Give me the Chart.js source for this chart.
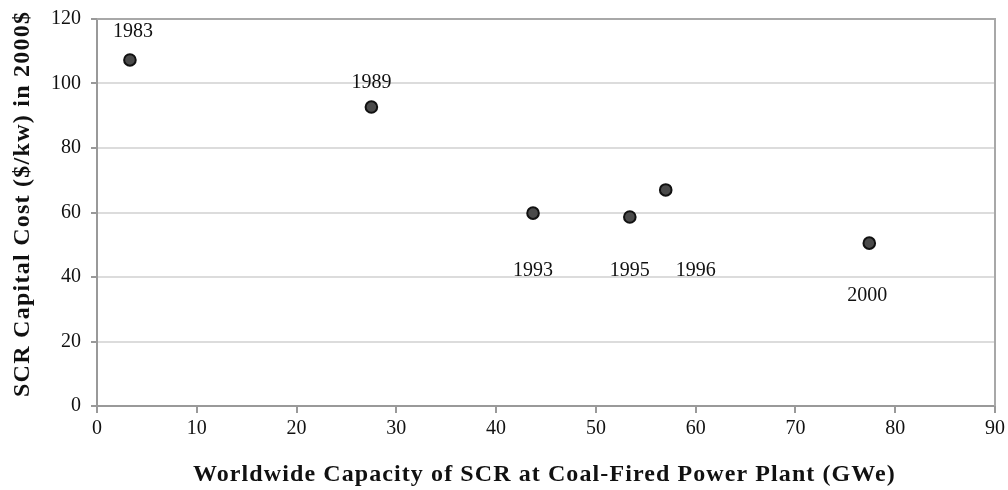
<!DOCTYPE html>
<html>
<head>
<meta charset="utf-8">
<script src="https://cdn.jsdelivr.net/npm/chart.js@4/dist/chart.umd.min.js"></script>
<style>
  html, body { margin: 0; padding: 0; background: #fff; }
  #wrap { width: 1008px; height: 490px; }
</style>
</head>
<body>
<div id="wrap"><canvas id="scr"></canvas></div>
<script>
// values
const years = ['1983', '1989', '1993', '1995', '1996', '2000'];
const capacityGWe = [3.3, 27.5, 43.7, 53.4, 57.0, 77.4];
const costPerKw = [107.3, 92.7, 59.8, 58.6, 67.0, 50.5];
const xTicks = [0, 10, 20, 30, 40, 50, 60, 70, 80, 90];
const yTicks = [0, 20, 40, 60, 80, 100, 120];
const xTitle = 'Worldwide Capacity of SCR at Coal-Fired Power Plant (GWe)';
const yTitle = 'SCR Capital Cost ($/kw) in 2000$';

// where each year label sits relative to its point (pixels)
const labelOffsets = [[3, -28], [0, -24], [0, 58], [0, 54], [30, 81], [-2, 53]];

const serif = '"Liberation Serif", "Times New Roman", serif';

const yearLabels = {
    id: 'yearLabels',
    afterDatasetsDraw(chart) {
        const ctx = chart.ctx;
        const meta = chart.getDatasetMeta(0);
        ctx.save();
        ctx.font = '20px ' + serif;
        ctx.fillStyle = '#111';
        ctx.textAlign = 'center';
        ctx.textBaseline = 'middle';
        meta.data.forEach((pt, i) => {
            const off = labelOffsets[i];
            ctx.fillText(years[i], pt.x + off[0], pt.y + off[1]);
        });
        ctx.restore();
    }
};

// the original titles are a little wider than Liberation Serif Bold
function spacedText(ctx, text, width) {
    ctx.letterSpacing = '0px';
    const w = ctx.measureText(text).width;
    const sp = (width - w) / (text.length - 1);
    ctx.letterSpacing = sp.toFixed(2) + 'px';
}

const axisTitles = {
    id: 'axisTitles',
    afterDraw(chart) {
        const { ctx, chartArea: a } = chart;
        ctx.save();
        ctx.fillStyle = '#111';
        ctx.font = 'bold 24px ' + serif;
        ctx.textBaseline = 'alphabetic';
        ctx.textAlign = 'left';

        spacedText(ctx, xTitle, 702);
        ctx.fillText(xTitle, a.left + 96, 481);

        spacedText(ctx, yTitle, 385);
        ctx.translate(29, 397);
        ctx.rotate(-Math.PI / 2);
        ctx.fillText(yTitle, 0, 0);
        ctx.restore();
    }
};

// grey frame on top and right edge of the plot
const frame = {
    id: 'frame',
    beforeDatasetsDraw(chart) {
        const { ctx, chartArea: a } = chart;
        ctx.save();
        ctx.strokeStyle = '#a8a8a8';
        ctx.lineWidth = 2;
        ctx.beginPath();
        ctx.moveTo(a.left, a.top);
        ctx.lineTo(a.right, a.top);
        ctx.lineTo(a.right, a.bottom);
        ctx.stroke();
        ctx.restore();
    }
};

new Chart(document.getElementById('scr'), {
    type: 'scatter',
    data: {
        datasets: [{
            label: 'SCR capital cost',
            data: capacityGWe.map((x, i) => ({ x: x, y: costPerKw[i] })),
            backgroundColor: '#4a4a4a',
            borderColor: '#111',
            borderWidth: 2,
            pointRadius: 5.8,
            pointHoverRadius: 5.8
        }]
    },
    options: {
        responsive: true,
        maintainAspectRatio: false,
        animation: false,
        layout: { padding: { top: 19, right: 13, left: 0, bottom: 0 } },
        plugins: {
            legend: { display: false },
            tooltip: { enabled: false }
        },
        scales: {
            x: {
                type: 'linear',
                min: 0,
                max: 90,
                afterBuildTicks: (s) => { s.ticks = xTicks.map(v => ({ value: v })); },
                afterFit: (s) => { s.height = 84; s.paddingLeft = 0; s.paddingRight = 0; },
                grid: { drawOnChartArea: false, tickLength: 7, tickColor: '#999', lineWidth: 2 },
                border: { color: '#999', width: 2 },
                ticks: { color: '#111', padding: 4, font: { family: serif, size: 20 } },
                title: { display: false }
            },
            y: {
                min: 0,
                max: 120,
                afterBuildTicks: (s) => { s.ticks = yTicks.map(v => ({ value: v })); },
                afterFit: (s) => { s.width = 97; s.paddingTop = 0; s.paddingBottom = 0; },
                grid: { color: '#dcdcdc', lineWidth: 2, tickLength: 6, tickColor: '#999' },
                border: { color: '#999', width: 2 },
                ticks: { color: '#111', padding: 10, font: { family: serif, size: 20 } },
                title: { display: false }
            }
        }
    },
    plugins: [frame, yearLabels, axisTitles]
});
</script>
</body>
</html>
